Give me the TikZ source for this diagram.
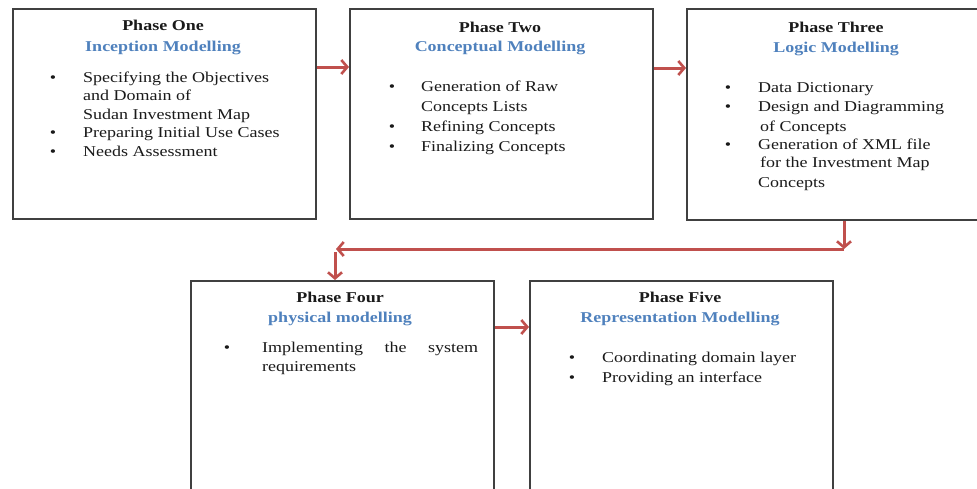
\documentclass[tikz,border=0pt]{standalone}
\usepackage{fontspec}
\setmainfont{Liberation Serif}[FakeStretch=1.2]
\usetikzlibrary{arrows.meta,calc}
\definecolor{boxline}{HTML}{404040}
\definecolor{arrowred}{HTML}{C0504D}
\definecolor{ttlblue}{HTML}{4F81BD}
\definecolor{txt}{HTML}{1A1A1A}
\begin{document}
\begin{tikzpicture}[x=1pt,y=-1pt,
  phasebox/.style={draw=boxline, line width=1.8pt, fill=white, minimum width=303pt, anchor=north west, inner sep=0pt},
  flow/.style={draw=arrowred, line width=3pt, -{Straight Barb[length=6pt,width=14pt,line width=2.6pt]}},
  phasettl/.style={font=\fontsize{15}{18}\selectfont\bfseries, text=txt, anchor=base, inner sep=0pt},
  modttl/.style={font=\fontsize{15}{18}\selectfont\bfseries, text=ttlblue, anchor=base, inner sep=0pt},
  itemtxt/.style={font=\fontsize{15}{19}\selectfont, text=txt, anchor=base west, inner sep=0pt},
  bul/.style={font=\fontsize{15}{19}\selectfont, text=txt, anchor=base, inner sep=0pt}]
\useasboundingbox (0,0) rectangle (977,488);
\clip (0,0) rectangle (977,488);
\fill[white] (0,0) rectangle (977,488);

% boxes
\node[phasebox, minimum height=210pt] (b1) at (12,8) {};
\node[phasebox, minimum height=210pt] (b2) at (349,8) {};
\node[phasebox, minimum height=211pt] (b3) at (686,8) {};
\node[phasebox, minimum height=225pt] (b4) at (190,280) {};
\node[phasebox, minimum height=225pt] (b5) at (529,280) {};

% Box 1
\node[phasettl] (t1a) at (163,30) {Phase One};
\node[modttl] (t1b) at (163,51) {Inception Modelling};
\node[bul] (u11) at (53,82) {•};
\node[itemtxt] (l11) at (83,82) {Specifying the Objectives};
\node[itemtxt] (l12) at (83,100) {and Domain of};
\node[itemtxt] (l13) at (83,119) {Sudan Investment Map};
\node[bul] (u12) at (53,137) {•};
\node[itemtxt] (l14) at (83,137) {Preparing Initial Use Cases};
\node[bul] (u13) at (53,156) {•};
\node[itemtxt] (l15) at (83,156) {Needs Assessment};

% Box 2
\node[phasettl] (t2a) at (500,32) {Phase Two};
\node[modttl] (t2b) at (500,51) {Conceptual Modelling};
\node[bul] (u21) at (392,91) {•};
\node[itemtxt] (l21) at (421,91) {Generation of Raw};
\node[itemtxt] (l22) at (421,111) {Concepts Lists};
\node[bul] (u22) at (392,131) {•};
\node[itemtxt] (l23) at (421,131) {Refining Concepts};
\node[bul] (u23) at (392,151) {•};
\node[itemtxt] (l24) at (421,151) {Finalizing Concepts};

% Box 3
\node[phasettl] (t3a) at (836,32) {Phase Three};
\node[modttl] (t3b) at (836,52) {Logic Modelling};
\node[bul] (u31) at (728,92) {•};
\node[itemtxt] (l31) at (758,92) {Data Dictionary};
\node[bul] (u32) at (728,111) {•};
\node[itemtxt] (l32) at (758,111) {Design and Diagramming};
\node[itemtxt] (l33) at (760,131) {of Concepts};
\node[bul] (u33) at (728,149) {•};
\node[itemtxt] (l34) at (758,149) {Generation of XML file};
\node[itemtxt] (l35) at (760,167) {for the Investment Map};
\node[itemtxt] (l36) at (758,187) {Concepts};

% Box 4
\node[phasettl] (t4a) at (340,302) {Phase Four};
\node[modttl] (t4b) at (340,322) {physical modelling};
\node[bul] (u41) at (227,352) {•};
\node[itemtxt] (l41) at (262,352) {\hbox to 216pt{Implementing\hfil the\hfil system}};
\node[itemtxt] (l42) at (262,371) {requirements};

% Box 5
\node[phasettl] (t5a) at (680,302) {Phase Five};
\node[modttl] (t5b) at (680,322) {Representation Modelling};
\node[bul] (u51) at (572,362) {•};
\node[itemtxt] (l51) at (602,362) {Coordinating domain layer};
\node[bul] (u52) at (572,382) {•};
\node[itemtxt] (l52) at (602,382) {Providing an interface};

% connectors
\coordinate (k1) at (844,249);
\coordinate (k2) at (336,249);
\coordinate (k3) at (335,252);
\draw[flow] ($(b1.north east)+(0,59)$) -- ($(b2.north west)+(0,59)$);
\draw[flow] ($(b2.north east)+(0,60)$) -- ($(b3.north west)+(0,60)$);
\draw[flow] (b3.south -| k1) -- (k1);
\draw[flow] (k1) -- (k2);
\draw[flow] (k3) -- (b4.north -| k3);
\draw[flow] ($(b4.north east)+(0,47)$) -- ($(b5.north west)+(0,47)$);
\end{tikzpicture}
\end{document}
